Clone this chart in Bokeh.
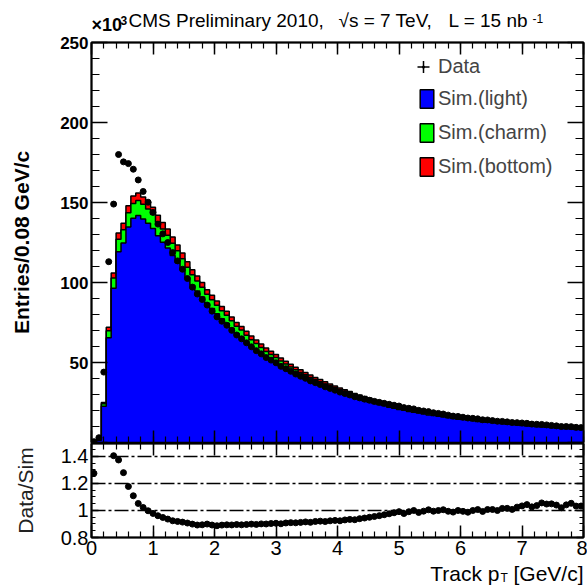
import numpy as np
from bokeh.plotting import figure
from bokeh.models import (ColumnDataSource, FixedTicker, LinearAxis, Span,
                          Legend, LegendItem, Range1d, CustomJSTickFormatter)
from bokeh.core.properties import value
from bokeh.layouts import column
from bokeh.embed import file_html
from bokeh.resources import INLINE

FONT = "Liberation Sans"

# ---------------- data ----------------
BIN_WIDTH = 0.08          # GeV/c
N_BINS = 100              # 0 .. 8 GeV/c

sim_light = [
    0.4, 1.4, 22.7, 65.5, 96.4, 119.2, 124.7, 134.7, 140.2, 141.9,
    139.7, 137.0, 133.8, 129.2, 125.1, 121.5, 116.9, 112.4, 107.8, 102.8,
    98.3, 94.7, 91.0, 86.9, 83.7, 80.5, 77.3, 74.6, 71.4, 68.2,
    65.9, 62.9, 60.2, 58.0, 55.6, 53.4, 51.6, 49.8, 47.8, 46.0,
    44.3, 42.7, 41.1, 39.7, 38.2, 36.9, 35.5, 34.3, 33.1, 32.0,
    30.9, 29.7, 28.8, 27.8, 26.9, 26.0, 25.1, 24.4, 23.6, 22.9,
    22.1, 21.4, 20.7, 20.1, 19.4, 18.9, 18.4, 17.8, 17.2, 16.9,
    16.4, 15.9, 15.5, 15.0, 14.6, 14.3, 14.0, 13.6, 13.2, 12.8,
    12.6, 12.3, 12.0, 11.7, 11.4, 11.2, 10.9, 10.6, 10.3, 10.1,
    9.9, 9.7, 9.5, 9.2, 9.0, 8.8, 8.6, 8.4, 8.2, 8.1]

sim_charm = [
    0.0, 0.1, 1.5, 4.3, 6.4, 7.9, 8.2, 8.9, 9.2, 9.4,
    9.2, 9.0, 8.8, 8.5, 8.3, 8.0, 7.7, 7.4, 7.1, 6.8,
    6.5, 6.2, 6.0, 5.7, 5.5, 5.3, 5.1, 4.9, 4.7, 4.5,
    4.4, 4.2, 4.0, 3.8, 3.7, 3.5, 3.4, 3.3, 3.2, 3.0,
    2.9, 2.8, 2.7, 2.6, 2.5, 2.4, 2.4, 2.3, 2.2, 2.1,
    2.0, 2.0, 1.9, 1.8, 1.8, 1.7, 1.7, 1.6, 1.6, 1.5,
    1.5, 1.4, 1.4, 1.3, 1.3, 1.3, 1.2, 1.2, 1.2, 1.1,
    1.1, 1.1, 1.0, 1.0, 1.0, 1.0, 0.9, 0.9, 0.9, 0.9,
    0.8, 0.8, 0.8, 0.8, 0.8, 0.7, 0.7, 0.7, 0.7, 0.7,
    0.7, 0.6, 0.6, 0.6, 0.6, 0.6, 0.6, 0.6, 0.6, 0.5]

sim_bottom = [
    0.0, 0.0, 0.8, 2.2, 3.2, 3.9, 4.1, 4.4, 4.6, 4.7,
    4.6, 4.5, 4.4, 4.3, 4.1, 4.0, 3.9, 3.7, 3.6, 3.4,
    3.2, 3.1, 3.0, 2.9, 2.8, 2.7, 2.6, 2.5, 2.4, 2.3,
    2.2, 2.4, 2.3, 2.2, 2.2, 2.1, 2.0, 1.9, 1.8, 1.8,
    1.7, 1.6, 1.6, 1.5, 1.5, 1.4, 1.4, 1.3, 1.3, 1.2,
    1.2, 1.2, 1.1, 1.1, 1.0, 1.0, 1.0, 0.9, 0.9, 0.9,
    0.9, 0.9, 0.9, 0.9, 0.9, 0.8, 0.8, 0.8, 0.8, 0.7,
    0.7, 0.7, 0.7, 0.7, 0.7, 0.6, 0.6, 0.6, 0.6, 0.6,
    0.6, 0.5, 0.5, 0.5, 0.5, 0.5, 0.5, 0.5, 0.5, 0.4,
    0.4, 0.4, 0.4, 0.4, 0.4, 0.4, 0.4, 0.4, 0.4, 0.4]

data_counts = [
    0.51, 3.0, 44.0, 113.0, 149.0, 180.0, 175.4, 174.3, 170.8, 164.1,
    156.9, 150.2, 143.8, 136.5, 130.4, 125.0, 118.7, 113.5, 108.3, 102.5,
    97.1, 92.8, 89.4, 85.9, 82.1, 78.5, 75.8, 73.3, 70.1, 67.2,
    64.8, 62.3, 59.8, 57.4, 55.4, 53.1, 51.5, 49.8, 47.6, 46.1,
    44.5, 42.8, 41.4, 40.1, 38.5, 37.4, 36.2, 34.8, 33.8, 32.7,
    31.5, 30.6, 29.7, 28.6, 27.9, 27.1, 26.4, 25.7, 25.1, 24.5,
    23.9, 23.3, 22.8, 21.8, 21.4, 21.0, 20.1, 19.7, 19.3, 18.6,
    18.2, 17.8, 17.1, 16.5, 16.3, 15.8, 15.3, 15.1, 14.8, 14.2,
    14.1, 13.7, 13.3, 13.2, 12.9, 12.5, 12.4, 12.2, 12.0, 11.5,
    11.4, 11.3, 11.0, 10.7, 10.4, 10.0, 10.0, 9.9, 9.5, 9.3]

x_major_ticks = [0, 1, 2, 3, 4, 5, 6, 7, 8]
main_y_ticks = [0, 50, 100, 150, 200, 250]
ratio_y_ticks = [0.8, 1.0, 1.2, 1.4]
ratio_ref_lines = [1.0, 1.2, 1.4]
legend_labels = ["Data", "Sim.(light)", "Sim.(charm)", "Sim.(bottom)"]
sim_colors = ["#0000ff", "#00ff00", "#ff0000"]

# ---------------- derived ----------------
edges = np.round(np.arange(N_BINS + 1) * BIN_WIDTH, 4)
centers = edges[:-1] + BIN_WIDTH / 2
light = np.array(sim_light)
light_charm = light + np.array(sim_charm)
total = light_charm + np.array(sim_bottom)
data = np.array(data_counts)
ratio = data / total


def pad(a):
    return np.append(a, a[-1])


x_minor = [round(0.2 * i, 2) for i in range(41)]
y_minor_main = list(range(0, 251, 10))
y_minor_ratio = [round(0.8 + 0.05 * i, 2) for i in range(15)]

LEFT, RIGHT = 91, 4       # frame borders shared by all stacked figures
W = 587


def style_axis(ax, major_in, minor_in, size=None, bold=False, standoff=3):
    ax.major_tick_in = major_in
    ax.major_tick_out = 0
    ax.minor_tick_in = minor_in
    ax.minor_tick_out = 0
    ax.axis_line_color = "black"
    ax.axis_line_width = 1.5
    ax.major_tick_line_color = "black"
    ax.major_tick_line_width = 1.5
    ax.minor_tick_line_color = "black"
    ax.minor_tick_line_width = 1.2
    ax.major_label_text_font = FONT
    ax.major_label_text_color = "black"
    if size is None:
        ax.formatter = CustomJSTickFormatter(code="return ''")
        ax.major_label_text_font_size = "1px"
        ax.major_label_standoff = 0
    else:
        ax.major_label_text_font_size = size
        ax.major_label_standoff = standoff
        ax.major_label_text_font_style = "bold" if bold else "normal"


def text_band(h):
    # a strip whose data coordinates equal page pixels (x) and strip pixels from top (y)
    f = figure(width=W, height=h, x_range=Range1d(LEFT, W - RIGHT), y_range=Range1d(h, 0),
               output_backend="svg", toolbar_location=None, title=None,
               min_border_left=LEFT, min_border_right=RIGHT, min_border_top=0,
               min_border_bottom=0, x_axis_location=None, y_axis_location=None)
    f.xgrid.visible = False
    f.ygrid.visible = False
    f.outline_line_color = None
    f.background_fill_color = "white"
    f.border_fill_color = "white"
    return f


def put_text(f, x, baseline, txt, px, bold=False, align="left"):
    # vertical position given by the baseline; drawn with a middle anchor
    f.text(x=[x], y=[baseline - 0.35 * px], text=[txt], text_font=value(FONT),
           text_font_size=value(f"{px}px"), text_font_style="bold" if bold else "normal",
           text_align=align, text_baseline="middle", text_color="black")


# ---------------- header (title line) ----------------
HEAD = 34
ph = text_band(HEAD)
put_text(ph, 91, 31, "×10", 18, bold=True)
put_text(ph, 120, 24.5, "3", 12, bold=True)
put_text(ph, 128, 27, "CMS Preliminary 2010,", 19)
put_text(ph, 338, 27, "√s = 7 TeV,", 19)
put_text(ph, 448, 27, "L = 15 nb", 19)
put_text(ph, 532, 22, "-1", 12)

# ---------------- main panel ----------------
p1 = figure(width=W, height=409, x_range=Range1d(0, 8), y_range=Range1d(0, 250),
            output_backend="svg", toolbar_location=None, title=None,
            min_border_left=LEFT, min_border_right=RIGHT, min_border_top=8,
            min_border_bottom=1)
p1.xgrid.visible = False
p1.ygrid.visible = False
p1.outline_line_color = "black"
p1.outline_line_width = 2
p1.background_fill_color = "white"
p1.border_fill_color = "white"

p1.xaxis[0].ticker = FixedTicker(ticks=x_major_ticks, minor_ticks=x_minor)
style_axis(p1.xaxis[0], 12, 6)
p1.yaxis[0].ticker = FixedTicker(ticks=main_y_ticks, minor_ticks=y_minor_main)
style_axis(p1.yaxis[0], 16, 8, size="17px", bold=True, standoff=3)
p1.yaxis[0].major_label_overrides = {0: ""}
p1.yaxis[0].axis_label = "Entries/0.08 GeV/c"
p1.yaxis[0].axis_label_text_font = FONT
p1.yaxis[0].axis_label_text_font_size = "21px"
p1.yaxis[0].axis_label_text_font_style = "bold"
p1.yaxis[0].axis_label_text_color = "black"
p1.yaxis[0].axis_label_standoff = 24

top1 = LinearAxis(ticker=FixedTicker(ticks=x_major_ticks, minor_ticks=x_minor))
style_axis(top1, 12, 6)
p1.add_layout(top1, "above")
right1 = LinearAxis(ticker=FixedTicker(ticks=main_y_ticks, minor_ticks=y_minor_main))
style_axis(right1, 16, 8)
p1.add_layout(right1, "right")

src = ColumnDataSource(data=dict(x=edges, light=pad(light), lc=pad(light_charm),
                                 tot=pad(total)))
for col, color in (("tot", sim_colors[2]), ("lc", sim_colors[1]), ("light", sim_colors[0])):
    p1.varea_step(x="x", y1=0, y2=col, source=src, step_mode="after", fill_color=color)
    p1.step(x="x", y=col, source=src, mode="after", line_color="black", line_width=1.5)

dsrc = ColumnDataSource(data=dict(x=centers, y=data))
p1.scatter("x", "y", source=dsrc, marker="circle", size=6, fill_color="black",
           line_color="black")

# legend swatches: renderers whose single point is NaN (never drawn in the frame)
nan_src = ColumnDataSource(data=dict(x=[np.nan], y=[np.nan]))
leg_cross = p1.scatter("x", "y", source=nan_src, marker="cross", line_color="black",
                       line_width=1.5)
leg_dot = p1.scatter("x", "y", source=nan_src, marker="dot", line_color="black",
                     line_width=2.5)
leg_boxes = [p1.rect("x", "y", width=1, height=1, source=nan_src, fill_color=c,
                     line_color="black", line_width=1.5) for c in sim_colors]

legend_a = Legend(items=[LegendItem(label=legend_labels[0], renderers=[leg_cross, leg_dot])],
                  location=(317, 353), glyph_width=30, glyph_height=45,
                  label_standoff=0, padding=0, margin=0, spacing=0,
                  label_text_font=FONT, label_text_font_size="20px",
                  background_fill_alpha=0, border_line_alpha=0)
legend_b = Legend(items=[LegendItem(label=legend_labels[i + 1], renderers=[leg_boxes[i]])
                         for i in range(3)],
                  location=(327, 264), glyph_width=17, glyph_height=23,
                  label_standoff=3, padding=0, margin=0, spacing=11,
                  label_text_font=FONT, label_text_font_size="20px",
                  background_fill_alpha=0, border_line_alpha=0)
p1.add_layout(legend_a)
p1.add_layout(legend_b)

# ---------------- ratio panel ----------------
p2 = figure(width=W, height=120, x_range=Range1d(0, 8), y_range=Range1d(0.8, 1.496),
            output_backend="svg", toolbar_location=None, title=None,
            min_border_left=LEFT, min_border_right=RIGHT, min_border_top=0,
            min_border_bottom=26)
p2.xgrid.visible = False
p2.ygrid.visible = False
p2.outline_line_color = "black"
p2.outline_line_width = 2
p2.background_fill_color = "white"
p2.border_fill_color = "white"

p2.xaxis[0].ticker = FixedTicker(ticks=x_major_ticks, minor_ticks=x_minor)
style_axis(p2.xaxis[0], 12, 6, size="20px", standoff=3)
p2.yaxis[0].ticker = FixedTicker(ticks=ratio_y_ticks, minor_ticks=y_minor_ratio)
style_axis(p2.yaxis[0], 7, 4, size="20px", standoff=3)
p2.yaxis[0].major_label_overrides = {1: "1"}
p2.yaxis[0].axis_label = "Data/Sim"
p2.yaxis[0].axis_label_text_font = FONT
p2.yaxis[0].axis_label_text_font_size = "21px"
p2.yaxis[0].axis_label_text_font_style = "normal"
p2.yaxis[0].axis_label_text_color = "#222222"
p2.yaxis[0].axis_label_standoff = 21

top2 = LinearAxis(ticker=FixedTicker(ticks=x_major_ticks, minor_ticks=x_minor))
style_axis(top2, 12, 6)
p2.add_layout(top2, "above")
right2 = LinearAxis(ticker=FixedTicker(ticks=ratio_y_ticks, minor_ticks=y_minor_ratio))
style_axis(right2, 7, 4)
p2.add_layout(right2, "right")

for lvl in ratio_ref_lines:
    p2.add_layout(Span(location=lvl, dimension="width", line_color="black",
                       line_width=1.5, line_dash="14 3 3 3"))

rsrc = ColumnDataSource(data=dict(x=centers, y=ratio))
p2.scatter("x", "y", source=rsrc, marker="circle", size=6, fill_color="black",
           line_color="black")

# ---------------- footer: x-axis title ----------------
FOOT = 22
pf = text_band(FOOT)
put_text(pf, 499, 17, "Track p", 21, align="right")
put_text(pf, 500, 19, "T", 12)
put_text(pf, 583, 17, "[GeV/c]", 21, align="right")

layout = column(ph, p1, p2, pf, spacing=0)
open("out.html", "w").write(file_html(layout, INLINE, "CMS track pT"))
